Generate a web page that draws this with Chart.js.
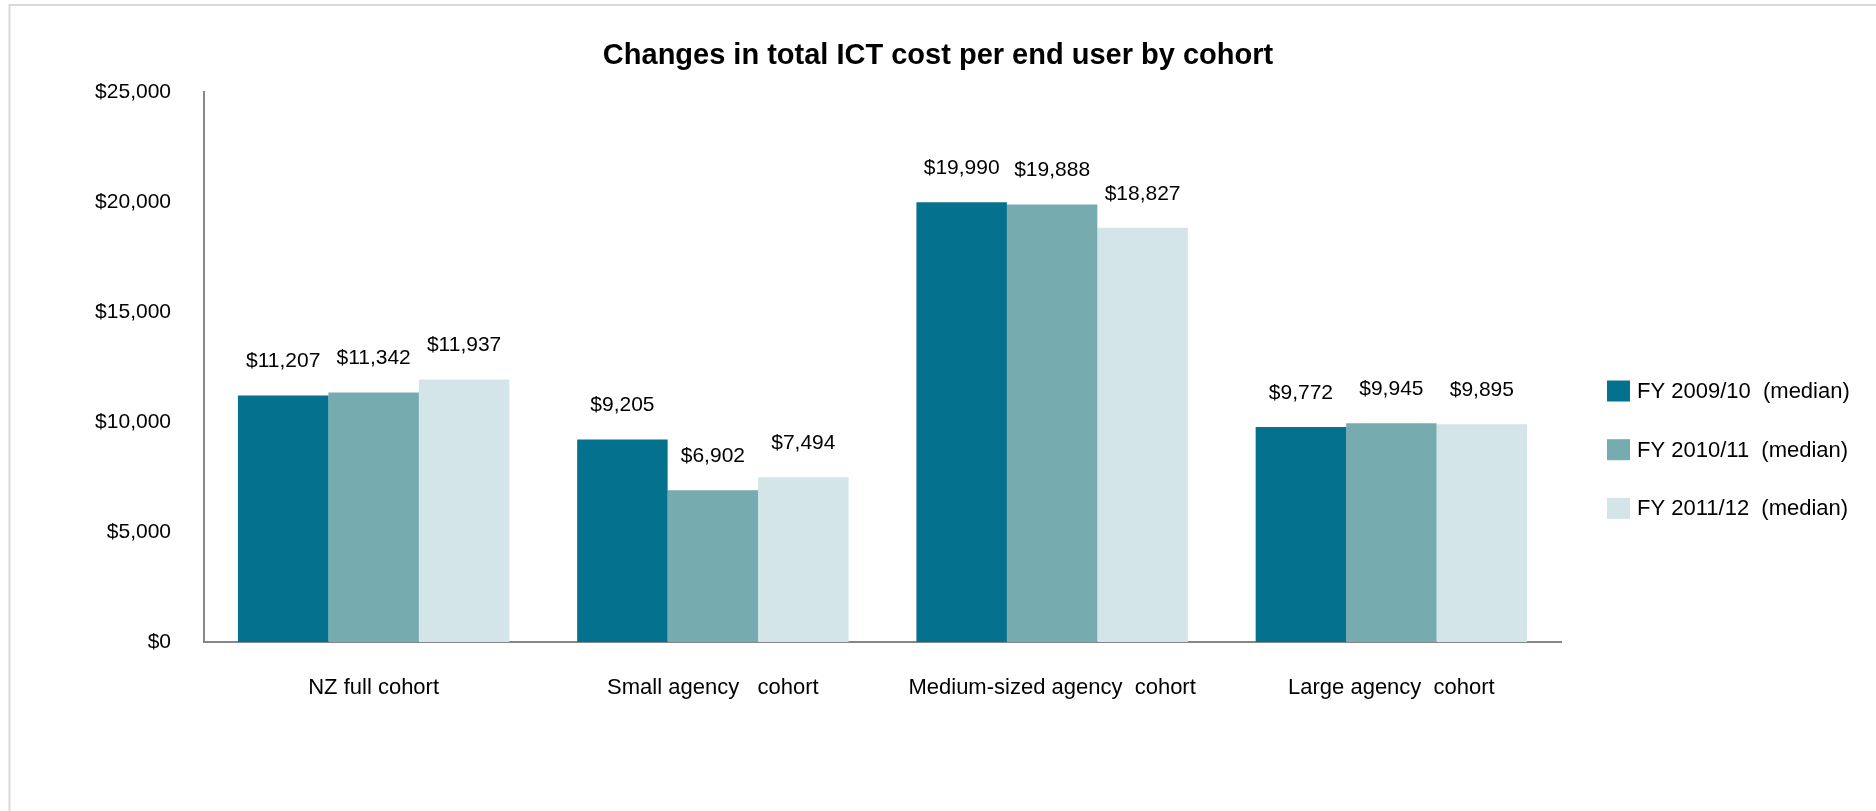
<!DOCTYPE html>
<html>
<head>
<meta charset="utf-8">
<title>Changes in total ICT cost per end user by cohort</title>
<script src="https://cdn.jsdelivr.net/npm/chart.js@4/dist/chart.umd.min.js"></script>
<style>
  html, body { margin: 0; padding: 0; background: #ffffff; }
  #wrap { width: 1876px; height: 811px; position: relative; }
</style>
</head>
<body>
<div id="wrap"><canvas id="c" width="1876" height="811"></canvas></div>
<script>
// Cohorts and median ICT cost per end user (NZD)
const categories = ['NZ full cohort', 'Small agency   cohort', 'Medium-sized agency  cohort', 'Large agency  cohort'];
const fy0910 = [11207, 9205, 19990, 9772];
const fy1011 = [11342, 6902, 19888, 9945];
const fy1112 = [11937, 7494, 18827, 9895];
const seriesNames = ['FY 2009/10  (median)', 'FY 2010/11  (median)', 'FY 2011/12  (median)'];
const yTicks = [0, 5000, 10000, 15000, 20000, 25000];

const colors = ['#04718e', '#76abb0', '#d3e5e9'];
const FONT = '"Liberation Sans", Arial, sans-serif';
const money = v => '$' + v.toLocaleString('en-US');

// Outer frame edges, title, value labels and the legend
const decor = {
  id: 'decor',
  beforeDraw(chart) {
    const ctx = chart.ctx;
    ctx.save();
    ctx.fillStyle = '#ffffff';
    ctx.fillRect(0, 0, chart.width, chart.height);
    ctx.strokeStyle = '#d9d9d9';
    ctx.lineWidth = 2;
    ctx.beginPath();
    ctx.moveTo(chart.width, 5);
    ctx.lineTo(9.5, 5);
    ctx.lineTo(9.5, chart.height);
    ctx.stroke();
    ctx.restore();
  },
  afterDatasetsDraw(chart) {
    const ctx = chart.ctx;
    ctx.save();
    ctx.font = '21px ' + FONT;
    ctx.fillStyle = '#000000';
    ctx.textAlign = 'center';
    ctx.textBaseline = 'middle';
    chart.data.datasets.forEach((ds, i) => {
      chart.getDatasetMeta(i).data.forEach((bar, j) => {
        ctx.fillText(money(ds.data[j]), bar.x, bar.y - 34);
      });
    });

    // title
    ctx.font = 'bold 29px ' + FONT;
    ctx.fillText('Changes in total ICT cost per end user by cohort', chart.width / 2, 56);

    // legend
    ctx.font = '22px ' + FONT;
    ctx.textAlign = 'left';
    chart.data.datasets.forEach((ds, i) => {
      const cy = 391 + i * 58.7;
      ctx.fillStyle = ds.backgroundColor;
      ctx.fillRect(1607, cy - 10.5, 23, 21);
      ctx.fillStyle = '#000000';
      ctx.fillText(ds.label, 1637, cy + 1);
    });
    ctx.restore();
  }
};

new Chart(document.getElementById('c'), {
  type: 'bar',
  data: {
    labels: categories,
    datasets: [
      { label: seriesNames[0], data: fy0910, backgroundColor: colors[0] },
      { label: seriesNames[1], data: fy1011, backgroundColor: colors[1] },
      { label: seriesNames[2], data: fy1112, backgroundColor: colors[2] }
    ]
  },
  options: {
    responsive: false,
    animation: false,
    devicePixelRatio: 1,
    layout: { padding: { left: 0, right: 315, top: 92, bottom: 0 } },
    datasets: { bar: { categoryPercentage: 0.8, barPercentage: 1.0, borderWidth: 0 } },
    plugins: {
      legend: { display: false },
      title: { display: false },
      tooltip: { enabled: false }
    },
    scales: {
      x: {
        grid: { display: false, drawTicks: false },
        border: { display: true, color: '#868686', width: 2 },
        ticks: { color: '#000000', font: { family: FONT, size: 22 }, padding: 33 },
        afterFit(scale) { scale.height = 169; }
      },
      y: {
        min: 0,
        max: 25000,
        afterBuildTicks(scale) { scale.ticks = yTicks.map(v => ({ value: v })); },
        grid: { display: false, drawTicks: false },
        border: { display: true, color: '#868686', width: 2 },
        ticks: { color: '#000000', font: { family: FONT, size: 21 }, padding: 33, callback: v => money(v) },
        afterFit(scale) { scale.width = 204; }
      }
    }
  },
  plugins: [decor]
});
</script>
</body>
</html>
